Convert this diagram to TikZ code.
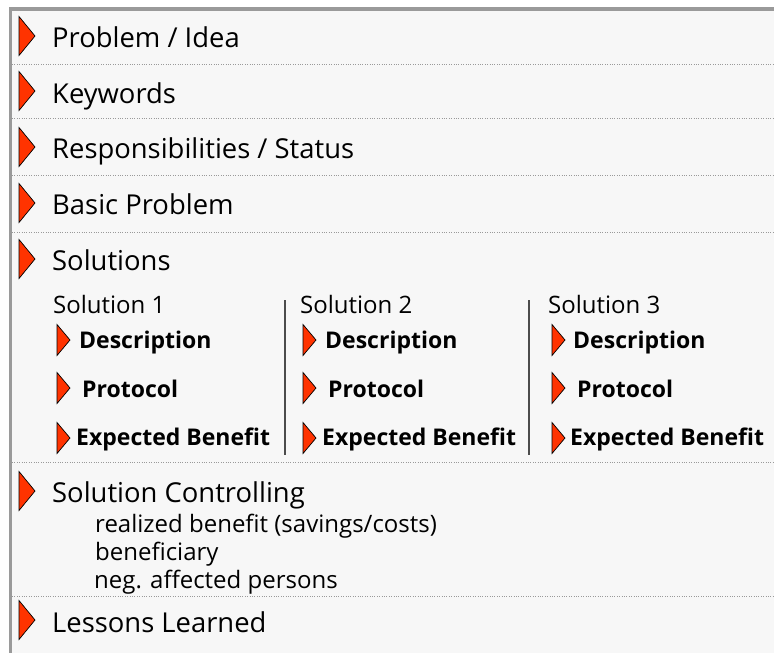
\documentclass[tikz,border=0pt]{standalone}
\usepackage{fontspec}
\setmainfont{Open Sans}
\definecolor{framegray}{HTML}{9A9A9A}
\definecolor{panelbg}{HTML}{F7F7F7}
\definecolor{markred}{HTML}{FF3300}

\tikzset{
  bigtri/.pic={\filldraw[fill=markred, draw=black, line width=0.7pt] (0,-19.5) -- (16,0) -- (0,19.5) -- cycle;},
  smalltri/.pic={\filldraw[fill=markred, draw=black, line width=0.7pt] (0,-15.5) -- (13,0) -- (0,15.5) -- cycle;},
  heading/.style={anchor=base west, inner sep=0pt, font=\fontsize{27.4}{32}\selectfont},
  colhead/.style={anchor=base west, inner sep=0pt, font=\fontsize{24}{28}\selectfont},
  colitem/.style={anchor=base west, inner sep=0pt, font=\fontsize{23}{27}\selectfont\bfseries},
  detail/.style={anchor=base west, inner sep=0pt, font=\fontsize{24}{28}\selectfont},
  rowsep/.style={draw=framegray, line width=0.8pt, dash pattern=on 0.8pt off 1.6pt},
  colsep/.style={draw=black!70, line width=1.3pt}
}

\begin{document}
\begin{tikzpicture}[x=1pt, y=-1pt]
		\useasboundingbox (0,0) rectangle (774,653);
		\fill[panelbg] (11,9) rectangle (774,653);
		\fill[framegray] (9,7) rectangle (774,11);
		\fill[framegray] (9,7) rectangle (12,653);

		% main rows
		\pic at (19,36) {bigtri};
		\node[heading] (idea) at (52,47) {Problem / Idea};
		\draw[rowsep] (12,64) -- (774,64);

		\pic at (19,91) {bigtri};
		\node[heading] (keys) at (52,103) {Keywords};
		\draw[rowsep] (12,118) -- (774,118);

		\pic at (19,147) {bigtri};
		\node[heading] (resp) at (52,158) {Responsibilities / Status};
		\draw[rowsep] (12,175) -- (774,175);

		\pic at (19,203) {bigtri};
		\node[heading] (basic) at (52,214) {Basic Problem};
		\draw[rowsep] (12,232) -- (774,232);

		\pic at (19,259) {bigtri};
		\node[heading] (sols) at (52,270) {Solutions};

		% solution columns
		\node[colhead] (s1) at (53,313) {Solution 1};
		\pic at (57,340) {smalltri};
		\node[colitem] (s1desc) at (79,348) {Description};
		\pic at (57,388) {smalltri};
		\node[colitem] (s1prot) at (82,397) {Protocol};
		\pic at (57,438) {smalltri};
		\node[colitem] (s1ben) at (76,445) {Expected Benefit};

		\draw[colsep] (285,300) -- (285,455);

		\node[colhead] (s2) at (300,313) {Solution 2};
		\pic at (303,340) {smalltri};
		\node[colitem] (s2desc) at (325,348) {Description};
		\pic at (303,388) {smalltri};
		\node[colitem] (s2prot) at (328,397) {Protocol};
		\pic at (303,438) {smalltri};
		\node[colitem] (s2ben) at (322,445) {Expected Benefit};

		\draw[colsep] (529,300) -- (529,455);

		\node[colhead] (s3) at (548,313) {Solution 3};
		\pic at (552,340) {smalltri};
		\node[colitem] (s3desc) at (573,348) {Description};
		\pic at (552,388) {smalltri};
		\node[colitem] (s3prot) at (577,397) {Protocol};
		\pic at (552,438) {smalltri};
		\node[colitem] (s3ben) at (570,445) {Expected Benefit};

		\draw[rowsep] (12,462) -- (774,462);

		% controlling
		\pic at (19,491) {bigtri};
		\node[heading] (ctrl) at (52,502) {Solution Controlling};
		\node[detail] (ctrl1) at (95,532) {realized benefit (savings/costs)};
		\node[detail] (ctrl2) at (95,560) {beneficiary};
		\node[detail] (ctrl3) at (94,588) {neg. affected persons};
		\draw[rowsep] (12,596) -- (774,596);

		\pic at (19,620) {bigtri};
		\node[heading] (lessons) at (52,632) {Lessons Learned};
	\end{tikzpicture}
\end{document}
